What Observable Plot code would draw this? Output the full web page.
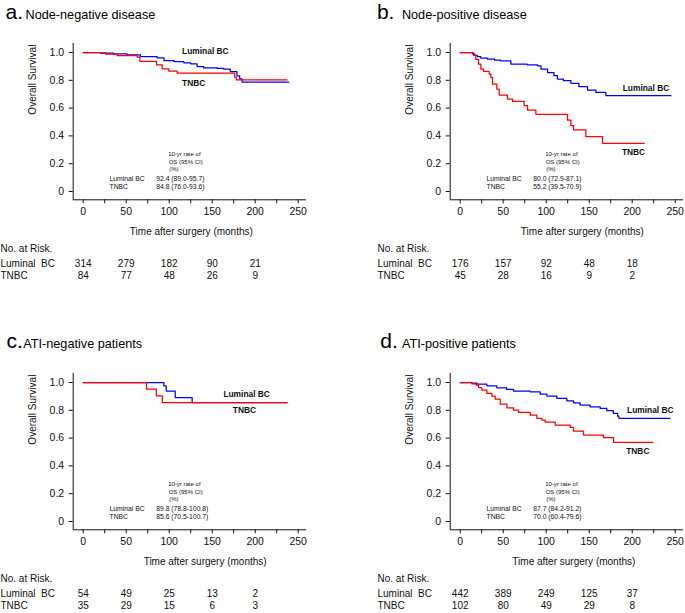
<!DOCTYPE html>
<html><head><meta charset="utf-8">
<script src="https://cdn.jsdelivr.net/npm/d3@7"></script>
<script src="https://cdn.jsdelivr.net/npm/@observablehq/plot@0.6"></script>
<style>
body{margin:0;background:#fff;}
#chart{position:relative;width:685px;height:613px;overflow:hidden;background:#fff;}
#chart svg{position:absolute;overflow:visible;}
</style></head><body><div id="chart"></div>
<script>
// ---- shared ----
const riskTimes = [0, 50, 100, 150, 200];
const xTicks = [0, 25, 50, 75, 100, 125, 150, 175, 200, 225, 250];
const yTicks = [0, 0.2, 0.4, 0.6, 0.8, 1.0];
const seriesNames = ["Luminal BC", "TNBC"];

// ---- panel a: Node-negative disease ----
const aLumT = [0, 20, 35, 51, 66.5, 86, 94, 105.5, 117, 125, 132.5, 140, 155.8, 163.5, 171, 178.8, 182, 184.8, 239];
const aLumS = [1, 0.996, 0.99, 0.983, 0.971, 0.962, 0.942, 0.935, 0.926, 0.919, 0.899, 0.89, 0.885, 0.88, 0.863, 0.832, 0.811, 0.786, 0.786];
const aTnT = [0, 26, 39.5, 62.8, 65.9, 85.2, 91.8, 99.6, 109.3, 176.2, 178, 237];
const aTnS = [1, 0.988, 0.978, 0.966, 0.937, 0.911, 0.883, 0.866, 0.851, 0.822, 0.803, 0.803];
const aLumRisk = [314, 279, 182, 90, 21];
const aTnRisk = [84, 77, 48, 26, 9];
const aRates = ["92.4 (89.0-95.7)", "84.8 (76.0-93.6)"];

// ---- panel b: Node-positive disease ----
const bLumT = [0, 14.3, 17, 20, 24, 31.8, 40, 47, 59, 78, 90, 94, 101.6, 109, 113, 120, 128.7, 138, 148, 157.8, 169.4, 245];
const bLumS = [1, 0.99, 0.98, 0.97, 0.96, 0.952, 0.945, 0.94, 0.916, 0.911, 0.904, 0.88, 0.856, 0.833, 0.809, 0.797, 0.778, 0.754, 0.73, 0.713, 0.689, 0.689];
const bTnT = [0, 15.5, 18.2, 21.3, 24, 27.1, 33.7, 35.7, 37.6, 42.6, 45.3, 55, 60.9, 74.4, 78.3, 88, 124.8, 128.7, 131.8, 146.1, 165.5, 214];
const bTnS = [1, 0.98, 0.95, 0.916, 0.88, 0.864, 0.845, 0.82, 0.773, 0.737, 0.694, 0.665, 0.648, 0.617, 0.586, 0.555, 0.514, 0.474, 0.443, 0.395, 0.347, 0.347];
const bLumRisk = [176, 157, 92, 48, 18];
const bTnRisk = [45, 28, 16, 9, 2];
const bRates = ["80.0 (72.9-87.1)", "55.2 (39.5-70.9)"];

// ---- panel c: ATI-negative patients ----
const cLumT = [0, 93.8, 96.5, 107, 126.7, 237];
const cLumS = [1, 0.976, 0.938, 0.892, 0.856, 0.856];
const cTnT = [0, 73.6, 85, 92, 237];
const cTnS = [1, 0.952, 0.904, 0.856, 0.856];
const cLumRisk = [54, 49, 25, 13, 2];
const cTnRisk = [35, 29, 15, 6, 3];
const cRates = ["89.8 (78.8-100.8)", "85.6 (70.5-100.7)"];

// ---- panel d: ATI-positive patients ----
const dLumT = [0, 13.6, 19.4, 31, 42.6, 54, 62, 81.4, 93, 100.8, 112.4, 124, 131.8, 139.5, 151, 162.8, 170.5, 178, 183, 184.5, 244];
const dLumS = [1, 0.995, 0.988, 0.976, 0.962, 0.95, 0.938, 0.933, 0.916, 0.902, 0.885, 0.868, 0.854, 0.837, 0.825, 0.813, 0.797, 0.778, 0.758, 0.742, 0.742];
const dTnT = [0, 13.6, 18.6, 21.3, 25.2, 31, 36.8, 40.7, 46.5, 54.3, 62, 67.8, 81.4, 89.1, 95, 98.8, 110.5, 128, 131.8, 143.4, 166.7, 178.3, 224];
const dTnS = [1, 0.99, 0.981, 0.964, 0.945, 0.921, 0.902, 0.88, 0.844, 0.818, 0.801, 0.785, 0.766, 0.742, 0.73, 0.715, 0.694, 0.677, 0.651, 0.622, 0.603, 0.569, 0.569];
const dLumRisk = [442, 389, 249, 125, 37];
const dTnRisk = [102, 80, 49, 29, 8];
const dRates = ["87.7 (84.2-91.2)", "70.0 (60.4-79.6)"];

const FONT = "'Liberation Sans', Arial, Helvetica, sans-serif";
const BLUE = "#0000ff", RED = "#ff0000";

const panels = [
  {letter: "a.", title: "Node-negative disease", left: 0, top: 0, height: 290,
   lumT: aLumT, lumS: aLumS, tnT: aTnT, tnS: aTnS, lumRisk: aLumRisk, tnRisk: aTnRisk, rates: aRates,
   letterX: 5, titleX: 25, titleY: 18.3, xTitleDx: 1.5,
   lumLab: {x: 115, y: 1.009}, tnLab: {x: 115, y: 0.782}},
  {letter: "b.", title: "Node-positive disease", left: 377, top: 0, height: 290,
   lumT: bLumT, lumS: bLumS, tnT: bTnT, tnS: bTnS, lumRisk: bLumRisk, tnRisk: bTnRisk, rates: bRates,
   letterX: -0.6, titleX: 24.4, titleY: 18.3, xTitleDx: 15.5,
   lumLab: {x: 189, y: 0.743}, tnLab: {x: 188, y: 0.283}},
  {letter: "c.", title: "ATI-negative patients", left: 0, top: 330, height: 283,
   lumT: cLumT, lumS: cLumS, tnT: cTnT, tnS: cTnS, lumRisk: cLumRisk, tnRisk: cTnRisk, rates: cRates,
   letterX: 6, titleX: 22.7, titleY: 17.5, xTitleDx: 15.3,
   lumLab: {x: 163, y: 0.914}, tnLab: {x: 174, y: 0.799}},
  {letter: "d.", title: "ATI-positive patients", left: 377, top: 330, height: 283,
   lumT: dLumT, lumS: dLumS, tnT: dTnT, tnS: dTnS, lumRisk: dLumRisk, tnRisk: dTnRisk, rates: dRates,
   letterX: 2.7, titleX: 24.4, titleY: 17, xTitleDx: 7,
   lumLab: {x: 194, y: 0.799}, tnLab: {x: 193, y: 0.504}}
];

function makePanel(p) {
  const lum = p.lumT.map((t, i) => ({t, s: p.lumS[i]}));
  const tn = p.tnT.map((t, i) => ({t, s: p.tnS[i]}));
  const risk = riskTimes.map((t, i) => ({t, lum: p.lumRisk[i], tn: p.tnRisk[i]}));
  const L = 72.7, T = 43, B = 199.3, R = 306, W = 308, H = p.height;
  const id = d => d;
  const svg = Plot.plot({
    width: W, height: H,
    marginLeft: L, marginTop: T, marginRight: W - R, marginBottom: H - B,
    x: {domain: [0, 250], range: [82.7, 297.7]},
    y: {domain: [0, 1], range: [191, 52]},
    style: {fontFamily: FONT, fontSize: "10px", color: "#111", background: "transparent", overflow: "visible"},
    marks: [
      // axis lines
      Plot.ruleX([0], {dx: -10, stroke: "#111", strokeWidth: 1}),
      Plot.ruleY([0], {dy: 8.3, stroke: "#111", strokeWidth: 1}),
      Plot.axisY({ticks: yTicks, tickFormat: d => d === 0 ? "0" : d.toFixed(1), tickSize: 4, tickPadding: 5, label: null, fontSize: 10.5}),
      Plot.axisX({ticks: xTicks, tickFormat: d => d % 50 === 0 ? String(d) : "", tickSize: 4, tickPadding: 4, label: null, fontSize: 10.5}),
      // curves
      Plot.line(lum, {x: "t", y: "s", curve: "step-after", stroke: BLUE, strokeWidth: 1.25}),
      Plot.line(tn, {x: "t", y: "s", curve: "step-after", stroke: RED, strokeWidth: 1.25}),
      // curve labels
      Plot.text([p.lumLab], {x: "x", y: "y", text: () => seriesNames[0], textAnchor: "start", fontWeight: "bold", fontSize: 8.4}),
      Plot.text([p.tnLab], {x: "x", y: "y", text: () => seriesNames[1], textAnchor: "start", fontWeight: "bold", fontSize: 8.4}),
      // axis titles
      Plot.text(["Overall Survival"], {text: id, frameAnchor: "left", rotate: -90, dx: -40, dy: -7, fontSize: 10}),
      Plot.text(["Time after surgery (months)"], {text: id, frameAnchor: "bottom", dx: p.xTitleDx, dy: 35, fontSize: 10}),
      // panel title
      Plot.text([p.letter], {text: id, frameAnchor: "top-left", dx: p.letterX - L, dy: p.titleY - T, lineAnchor: "bottom", textAnchor: "start", fontSize: 21, fill: "#000"}),
      Plot.text([p.title], {text: id, frameAnchor: "top-left", dx: p.titleX - L, dy: p.titleY - T, lineAnchor: "bottom", textAnchor: "start", fontSize: 12.7, fill: "#000"}),
      // 10-yr OS annotation
      Plot.text(["10-yr rate of"], {text: id, frameAnchor: "top-left", dx: 95, dy: 108.7, fontSize: 6}),
      Plot.text(["OS (95% CI)"], {text: id, frameAnchor: "top-left", dx: 95.5, dy: 116, fontSize: 6}),
      Plot.text(["(%)"], {text: id, frameAnchor: "top-left", dx: 96, dy: 123.3, fontSize: 6}),
      Plot.text([seriesNames[0]], {text: id, frameAnchor: "top-left", dx: 36.3, dy: 133, textAnchor: "start", fontSize: 6.8}),
      Plot.text([seriesNames[1]], {text: id, frameAnchor: "top-left", dx: 36.3, dy: 141, textAnchor: "start", fontSize: 6.8}),
      Plot.text([p.rates[0]], {text: id, frameAnchor: "top-left", dx: 83, dy: 133, textAnchor: "start", fontSize: 6.8}),
      Plot.text([p.rates[1]], {text: id, frameAnchor: "top-left", dx: 83, dy: 141, textAnchor: "start", fontSize: 6.8}),
      // number at risk table
      Plot.text(["No. at Risk."], {text: id, frameAnchor: "bottom-left", dx: -L, dy: 52.4, textAnchor: "start", fontSize: 10}),
      Plot.text(["Luminal\u00a0 BC"], {text: id, frameAnchor: "bottom-left", dx: -L, dy: 67.4, textAnchor: "start", fontSize: 10}),
      Plot.text([seriesNames[1]], {text: id, frameAnchor: "bottom-left", dx: -L, dy: 79, textAnchor: "start", fontSize: 10}),
      Plot.text(risk, {x: "t", text: "lum", frameAnchor: "bottom", dy: 67.4, fontSize: 10}),
      Plot.text(risk, {x: "t", text: "tn", frameAnchor: "bottom", dy: 79, fontSize: 10})
    ]
  });
  svg.style.left = p.left + "px";
  svg.style.top = p.top + "px";
  return svg;
}

const chart = document.getElementById("chart");
panels.forEach(p => chart.appendChild(makePanel(p)));
</script>
</body></html>
